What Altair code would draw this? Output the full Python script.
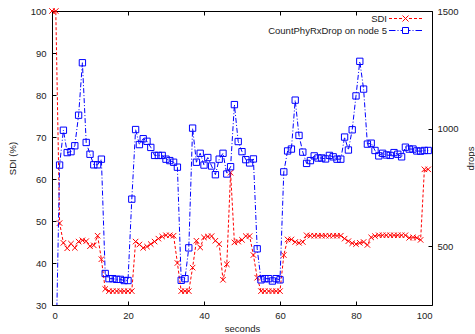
import altair as alt
import pandas as pd

# ---------------- data ----------------
seconds = [
    0, 1, 2, 3, 4, 5, 6, 7, 8, 9, 10, 11, 12, 13, 14, 15, 16, 17, 18, 19,
    20, 21, 22, 23, 24, 25, 26, 27, 28, 29, 30, 31, 32, 33, 34, 35, 36, 37, 38, 39,
    40, 41, 42, 43, 44, 45, 46, 47, 48, 49, 50, 51, 52, 53, 54, 55, 56, 57, 58, 59,
    60, 61, 62, 63, 64, 65, 66, 67, 68, 69, 70, 71, 72, 73, 74, 75, 76, 77, 78, 79,
    80, 81, 82, 83, 84, 85, 86, 87, 88, 89, 90, 91, 92, 93, 94, 95, 96, 97, 98, 99,
]
sdi = [
    100, 100, 49.5, 44.8, 43.5, 44.6, 43.6, 45.1, 45.4, 45.2,
    44.0, 44.2, 46.5, 40.9, 33.8, 33.3, 33.3, 33.3, 33.3, 33.3,
    33.3, 33.3, 45.1, 44.4, 43.6, 43.9, 44.5, 45.1, 45.8, 46.3,
    46.6, 46.6, 46.5, 40.0, 33.3, 33.3, 33.3, 38.9, 45.3, 43.7,
    46.1, 46.3, 46.4, 45.3, 44.5, 36.0, 39.7, 61.5, 44.9, 45.1,
    45.5, 46.4, 46.4, 41.9, 36.5, 33.3, 33.3, 33.3, 33.3, 33.3,
    33.3, 41.9, 45.6, 45.6, 45.0, 44.8, 45.0, 46.6, 46.5, 46.5,
    46.5, 46.5, 46.5, 46.5, 46.5, 46.5, 46.5, 45.8, 45.2, 44.7,
    44.5, 44.8, 45.0, 44.3, 46.1, 46.4, 46.6, 46.6, 46.6, 46.6,
    46.6, 46.6, 46.6, 46.6, 46.0, 46.1, 46.0, 45.5, 62.3, 62.3,
]
drops = [
    0, 0, 845, 993, 898, 902, 927, 1057, 1280, 941,
    891, 846, 846, 870, 384, 362, 362, 359, 359, 354,
    354, 700, 996, 932, 957, 946, 920, 886, 886, 886,
    870, 864, 857, 836, 355, 362, 493, 1002, 857, 895,
    845, 877, 841, 804, 870, 895, 807, 838, 1102, 945,
    902, 868, 854, 871, 489, 357, 362, 362, 352, 362,
    357, 816, 905, 913, 1121, 971, 900, 852, 864, 884,
    875, 875, 871, 886, 880, 870, 870, 964, 909, 995,
    1139, 1286, 1168, 934, 938, 907, 884, 895, 888, 886,
    898, 891, 880, 921, 913, 913, 905, 904, 907, 907,
]
series_names = ["SDI", "CountPhyRxDrop on node 5"]
series_colors = ["#ff0000", "#0000ff"]
x_ticks = [0, 20, 40, 60, 80, 100]
sdi_ticks = [30, 40, 50, 60, 70, 80, 90, 100]
drop_ticks = [500, 1000, 1500]

sdi_df = pd.DataFrame({"seconds": seconds, "sdi": sdi})
drops_df = pd.DataFrame({"seconds": seconds, "drops": drops})
legend_df = pd.DataFrame({"series": series_names})

# ---------------- styling ----------------
FONT = "Liberation Sans"
FS = 9.5
TXT = "#222222"

CROSS = "M-1,-1L1,1M-1,1L1,-1"
# legend samples (1 unit = 5 px): dashed line with the marker in the middle
SDI_SYMBOL = ("M-3.3,0L-2.7,0M-2.3,0L-1.7,0M-1.3,0L-0.7,0"
              "M0.7,0L1.3,0M1.7,0L2.3,0M2.7,0L3.3,0"
              "M-0.6,-0.6L0.6,0.6M-0.6,0.6L0.6,-0.6")
DROP_SYMBOL = ("M-3.3,0L-2.0,0M-1.6,0L-1.4,0M-1.0,0L-0.6,0"
               "M0.6,0L1.0,0M1.4,0L1.6,0M2.0,0L3.3,0"
               "M-0.6,-0.6L0.6,-0.6L0.6,0.6L-0.6,0.6Z")

x_scale = alt.Scale(domain=[0, 100], nice=False, zero=False)
sdi_scale = alt.Scale(domain=[30, 100], nice=False, zero=False)
drop_scale = alt.Scale(domain=[250, 1500], nice=False, zero=False)

x_bottom = alt.Axis(values=x_ticks, title="seconds", domain=False, grid=False,
                    offset=-4, tickSize=4, labelPadding=5, titlePadding=4)
x_top = alt.Axis(orient="top", values=x_ticks, title=None, labels=False,
                 domain=False, grid=False, offset=-4, tickSize=4)
y_left = alt.Axis(values=sdi_ticks, title="SDI (%)", domain=False, grid=False,
                  offset=-4, tickSize=4, labelPadding=6,
                  titleX=-44, titleY=147, titleAngle=270,
                  titleAlign="center", titleBaseline="middle")
y_right = alt.Axis(orient="right", values=drop_ticks, format="d", title="drops",
                   domain=False, grid=False, offset=-4, tickSize=4,
                   labelPadding=5, titleX=42, titleY=147, titleAngle=270,
                   titleAlign="center", titleBaseline="middle")

legend = alt.Legend(orient="none", legendX=348, legendY=2, title=None,
                    padding=0, symbolOpacity=1, symbolSize=100,
                    symbolStrokeWidth=1, labelAlign="right",
                    labelOffset={"expr": "-24"},
                    rowPadding=1, labelFont=FONT,
                    labelFontSize=FS, labelColor=TXT)

# ---------------- SDI (left axis) ----------------
sdi_line = alt.Chart(sdi_df).mark_line(
    color="#ff0000", strokeDash=[3, 2], strokeWidth=1
).encode(
    x=alt.X("seconds:Q", scale=x_scale, axis=x_bottom),
    y=alt.Y("sdi:Q", scale=sdi_scale, axis=y_left),
)
sdi_pts = alt.Chart(sdi_df).mark_point(
    shape=CROSS, filled=False, color="#ff0000", size=30, strokeWidth=1, opacity=1
).encode(x="seconds:Q", y="sdi:Q")

# legend only: no rows are drawn, the legend comes from the explicit domains
legend_layer = alt.Chart(legend_df).mark_point(
    filled=False, size=100, strokeWidth=1
).encode(
    color=alt.Color("series:N", sort=series_names,
                    scale=alt.Scale(domain=series_names, range=series_colors),
                    legend=legend),
    shape=alt.Shape("series:N", sort=series_names,
                    scale=alt.Scale(domain=series_names, range=[SDI_SYMBOL, DROP_SYMBOL]),
                    legend=legend),
).transform_filter("false")

left_layer = alt.layer(sdi_line, sdi_pts, legend_layer)

# ---------------- drops (right axis) ----------------
drop_line = alt.Chart(drops_df).mark_line(
    color="#0000ff", strokeDash=[5, 2, 1, 2], strokeWidth=1, clip=True
).encode(
    x=alt.X("seconds:Q", scale=x_scale, axis=x_top),
    y=alt.Y("drops:Q", scale=drop_scale, axis=y_right),
)
drop_pts = alt.Chart(drops_df).mark_point(
    shape="square", filled=False, color="#0000ff", size=40, strokeWidth=1,
    opacity=1, clip=True
).encode(x="seconds:Q", y="drops:Q")

right_layer = alt.layer(drop_line, drop_pts)

chart = alt.layer(left_layer, right_layer).resolve_scale(
    y="independent"
).resolve_axis(
    x="independent", y="independent"
).properties(
    width=380, height=294,
    autosize=alt.AutoSizeParams(type="none"),
    padding={"left": 52, "top": 11, "right": 43, "bottom": 29},
).configure_view(
    stroke="black", strokeWidth=1
).configure_axis(
    labelFont=FONT, titleFont=FONT, labelFontSize=FS, titleFontSize=FS,
    labelColor=TXT, titleColor=TXT, titleFontWeight="normal",
    tickColor="black", tickWidth=1,
)

chart.save("out.html", embed_options={"renderer": "svg", "actions": False})
